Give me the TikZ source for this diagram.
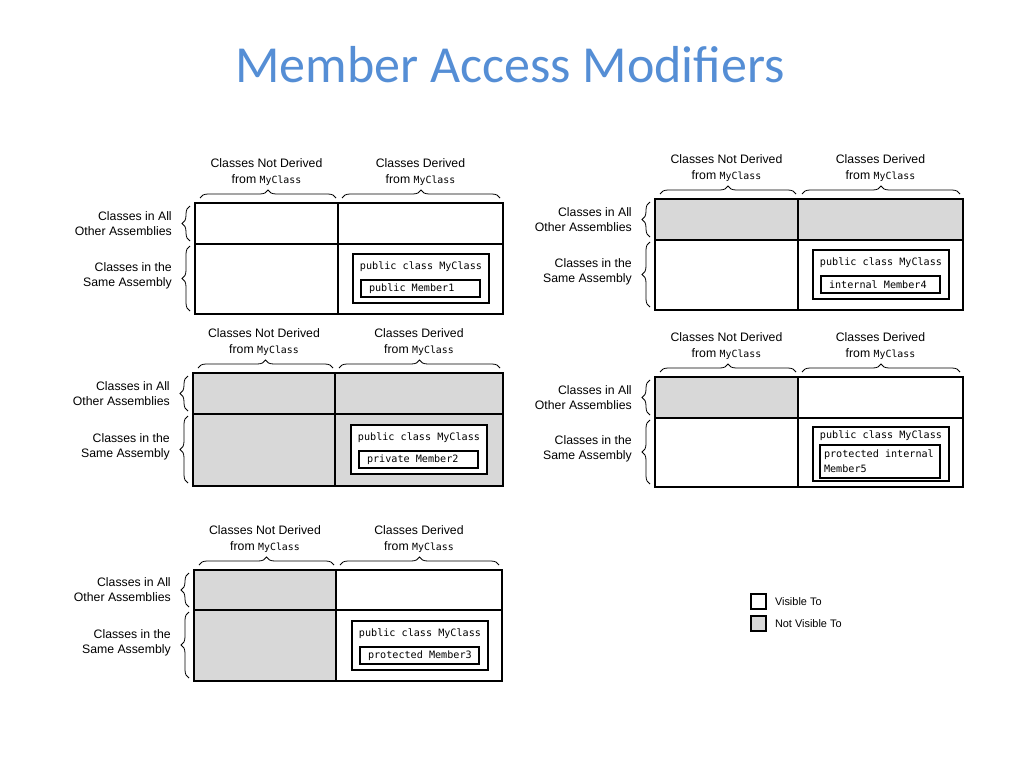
\documentclass[tikz,border=0pt]{standalone}
\usepackage{fontspec}
\usepackage{tikz}
\usetikzlibrary{positioning,decorations.pathreplacing}
\setmainfont{Liberation Sans}
\newfontfamily\titlefont{Carlito}
\newfontfamily\codefont{DejaVu Sans Mono}
\newcommand{\codeword}[1]{{\codefont\fontsize{7.4}{11.5}\selectfont #1}}
\definecolor{TitleBlue}{RGB}{85,142,213}
\definecolor{HiddenGray}{RGB}{216,216,216}

\begin{document}
\begin{tikzpicture}[
  x=0.75pt,y=-0.75pt,
  lab/.style={font=\fontsize{9.2}{11.5}\selectfont,align=center,inner sep=0pt},
  rowlab/.style={lab,align=right,anchor=east},
  keylab/.style={font=\fontsize{8.2}{10}\selectfont,inner sep=0pt,anchor=west},
  code/.style={font=\codefont\fontsize{7.6}{11.25}\selectfont,inner sep=0pt},
  memtxt/.style={code,align=left,anchor=west},
  grid/.style={draw,line width=1.5pt},
  divider/.style={draw,line width=1.1pt},
  clsbox/.style={draw,line width=1.4pt,fill=white,minimum width=102pt,minimum height=36.75pt,inner sep=0pt},
  membox/.style={draw,line width=1.4pt,fill=white,minimum width=89.25pt,minimum height=12.75pt,inner sep=0pt},
  grpbrace/.style={draw,line width=0.6pt,decorate,decoration={brace,amplitude=6pt}},
  keybox/.style={draw,line width=1.1pt,minimum size=11.25pt,inner sep=0pt},
  hidden/.style={fill=HiddenGray}
]
\useasboundingbox (0,0) rectangle (1029,771);
\node[font=\titlefont\fontsize{39}{44}\selectfont,text=TitleBlue,anchor=base] (title) at (510,82) {Member Access Modifiers};

% public
\begin{scope}[shift={(195,203)}]
  \draw[grid] (0,0) rectangle (308,111);
  \draw[divider] (0,41) -- (308,41) (143,0) -- (143,111);
  \node[lab] (p1nd) at (71.5,-31) {Classes Not Derived\\from \codeword{MyClass}};
  \node[lab] (p1d) at (225.5,-31) {Classes Derived\\from \codeword{MyClass}};
  \draw[grpbrace] (5,-5) -- (141,-5);
  \draw[grpbrace] (147,-5) -- (305,-5);
  \node[rowlab] (p1oa) at (-23,20.5) {Classes in All\\Other Assemblies};
  \node[rowlab] (p1sa) at (-23,72.5) {Classes in the\\Same Assembly};
  \draw[grpbrace] (-5,38) -- (-5,3);
  \draw[grpbrace] (-5,108) -- (-5,43);
  \node[clsbox] (p1cls) at (226,75.5) {};
  \node[code] (p1hdr) at (226,64) {public class MyClass};
  \node[membox] (p1mem) at (225.5,85.5) {};
  \node[memtxt] (p1memtxt) at ([xshift=6.5pt]p1mem.west) {public Member1};
\end{scope}

% internal
\begin{scope}[shift={(655,199)}]
  \fill[hidden] (0,0) rectangle (308,41);
  \draw[grid] (0,0) rectangle (308,111);
  \draw[divider] (0,41) -- (308,41) (143,0) -- (143,111);
  \node[lab] (p2nd) at (71.5,-31) {Classes Not Derived\\from \codeword{MyClass}};
  \node[lab] (p2d) at (225.5,-31) {Classes Derived\\from \codeword{MyClass}};
  \draw[grpbrace] (5,-5) -- (141,-5);
  \draw[grpbrace] (147,-5) -- (305,-5);
  \node[rowlab] (p2oa) at (-23,20.5) {Classes in All\\Other Assemblies};
  \node[rowlab] (p2sa) at (-23,72.5) {Classes in the\\Same Assembly};
  \draw[grpbrace] (-5,38) -- (-5,3);
  \draw[grpbrace] (-5,108) -- (-5,43);
  \node[clsbox] (p2cls) at (226,75.5) {};
  \node[code] (p2hdr) at (226,64) {public class MyClass};
  \node[membox] (p2mem) at (225.5,85.5) {};
  \node[memtxt] (p2memtxt) at ([xshift=6.5pt]p2mem.west) {internal Member4};
\end{scope}

% private
\begin{scope}[shift={(193,373)}]
  \fill[hidden] (0,0) rectangle (310,113);
  \draw[grid] (0,0) rectangle (310,113);
  \draw[divider] (0,41) -- (310,41) (142,0) -- (142,113);
  \node[lab] (p3nd) at (71,-31) {Classes Not Derived\\from \codeword{MyClass}};
  \node[lab] (p3d) at (226,-31) {Classes Derived\\from \codeword{MyClass}};
  \draw[grpbrace] (5,-5) -- (140,-5);
  \draw[grpbrace] (146,-5) -- (307,-5);
  \node[rowlab] (p3oa) at (-23,20.5) {Classes in All\\Other Assemblies};
  \node[rowlab] (p3sa) at (-23,74) {Classes in the\\Same Assembly};
  \draw[grpbrace] (-5,38) -- (-5,3);
  \draw[grpbrace] (-5,110) -- (-5,43);
  \node[clsbox] (p3cls) at (226,76.5) {};
  \node[code] (p3hdr) at (226,65) {public class MyClass};
  \node[membox] (p3mem) at (225.5,86.5) {};
  \node[memtxt] (p3memtxt) at ([xshift=6.5pt]p3mem.west) {private Member2};
\end{scope}

% protected internal
\begin{scope}[shift={(655,377)}]
  \fill[hidden] (0,0) rectangle (143,41);
  \draw[grid] (0,0) rectangle (308,110);
  \draw[divider] (0,41) -- (308,41) (143,0) -- (143,110);
  \node[lab] (p4nd) at (71.5,-31) {Classes Not Derived\\from \codeword{MyClass}};
  \node[lab] (p4d) at (225.5,-31) {Classes Derived\\from \codeword{MyClass}};
  \draw[grpbrace] (5,-5) -- (141,-5);
  \draw[grpbrace] (147,-5) -- (305,-5);
  \node[rowlab] (p4oa) at (-23,20.5) {Classes in All\\Other Assemblies};
  \node[rowlab] (p4sa) at (-23,72) {Classes in the\\Same Assembly};
  \draw[grpbrace] (-5,38) -- (-5,3);
  \draw[grpbrace] (-5,107) -- (-5,43);
  \node[clsbox,minimum height=40.5pt] (p4cls) at (226,77) {};
  \node[code] (p4hdr) at (226,59) {public class MyClass};
  \node[membox,minimum width=90pt,minimum height=24.75pt] (p4mem) at (225,84.5) {};
  \node[memtxt] (p4memtxt) at ([xshift=3.5pt]p4mem.west) {protected internal\\Member5};
\end{scope}

% protected
\begin{scope}[shift={(194,570)}]
  \fill[hidden] (0,0) rectangle (142,111);
  \draw[grid] (0,0) rectangle (308,111);
  \draw[divider] (0,40) -- (308,40) (142,0) -- (142,111);
  \node[lab] (p5nd) at (71,-31) {Classes Not Derived\\from \codeword{MyClass}};
  \node[lab] (p5d) at (225,-31) {Classes Derived\\from \codeword{MyClass}};
  \draw[grpbrace] (5,-5) -- (140,-5);
  \draw[grpbrace] (146,-5) -- (305,-5);
  \node[rowlab] (p5oa) at (-23,19.5) {Classes in All\\Other Assemblies};
  \node[rowlab] (p5sa) at (-23,72.5) {Classes in the\\Same Assembly};
  \draw[grpbrace] (-5,37) -- (-5,3);
  \draw[grpbrace] (-5,108) -- (-5,42);
  \node[clsbox] (p5cls) at (226,75.5) {};
  \node[code] (p5hdr) at (226,64) {public class MyClass};
  \node[membox] (p5mem) at (225.5,85.5) {};
  \node[memtxt] (p5memtxt) at ([xshift=6.5pt]p5mem.west) {protected Member3};
\end{scope}

% legend
\node[keybox] (keyvis) at (758.5,601.5) {};
\node[keybox,hidden] (keyhid) at (758.5,623.5) {};
\node[keylab,right=6pt of keyvis] (keyvistxt) {Visible To};
\node[keylab,right=6pt of keyhid] (keyhidtxt) {Not Visible To};
\end{tikzpicture}
\end{document}
